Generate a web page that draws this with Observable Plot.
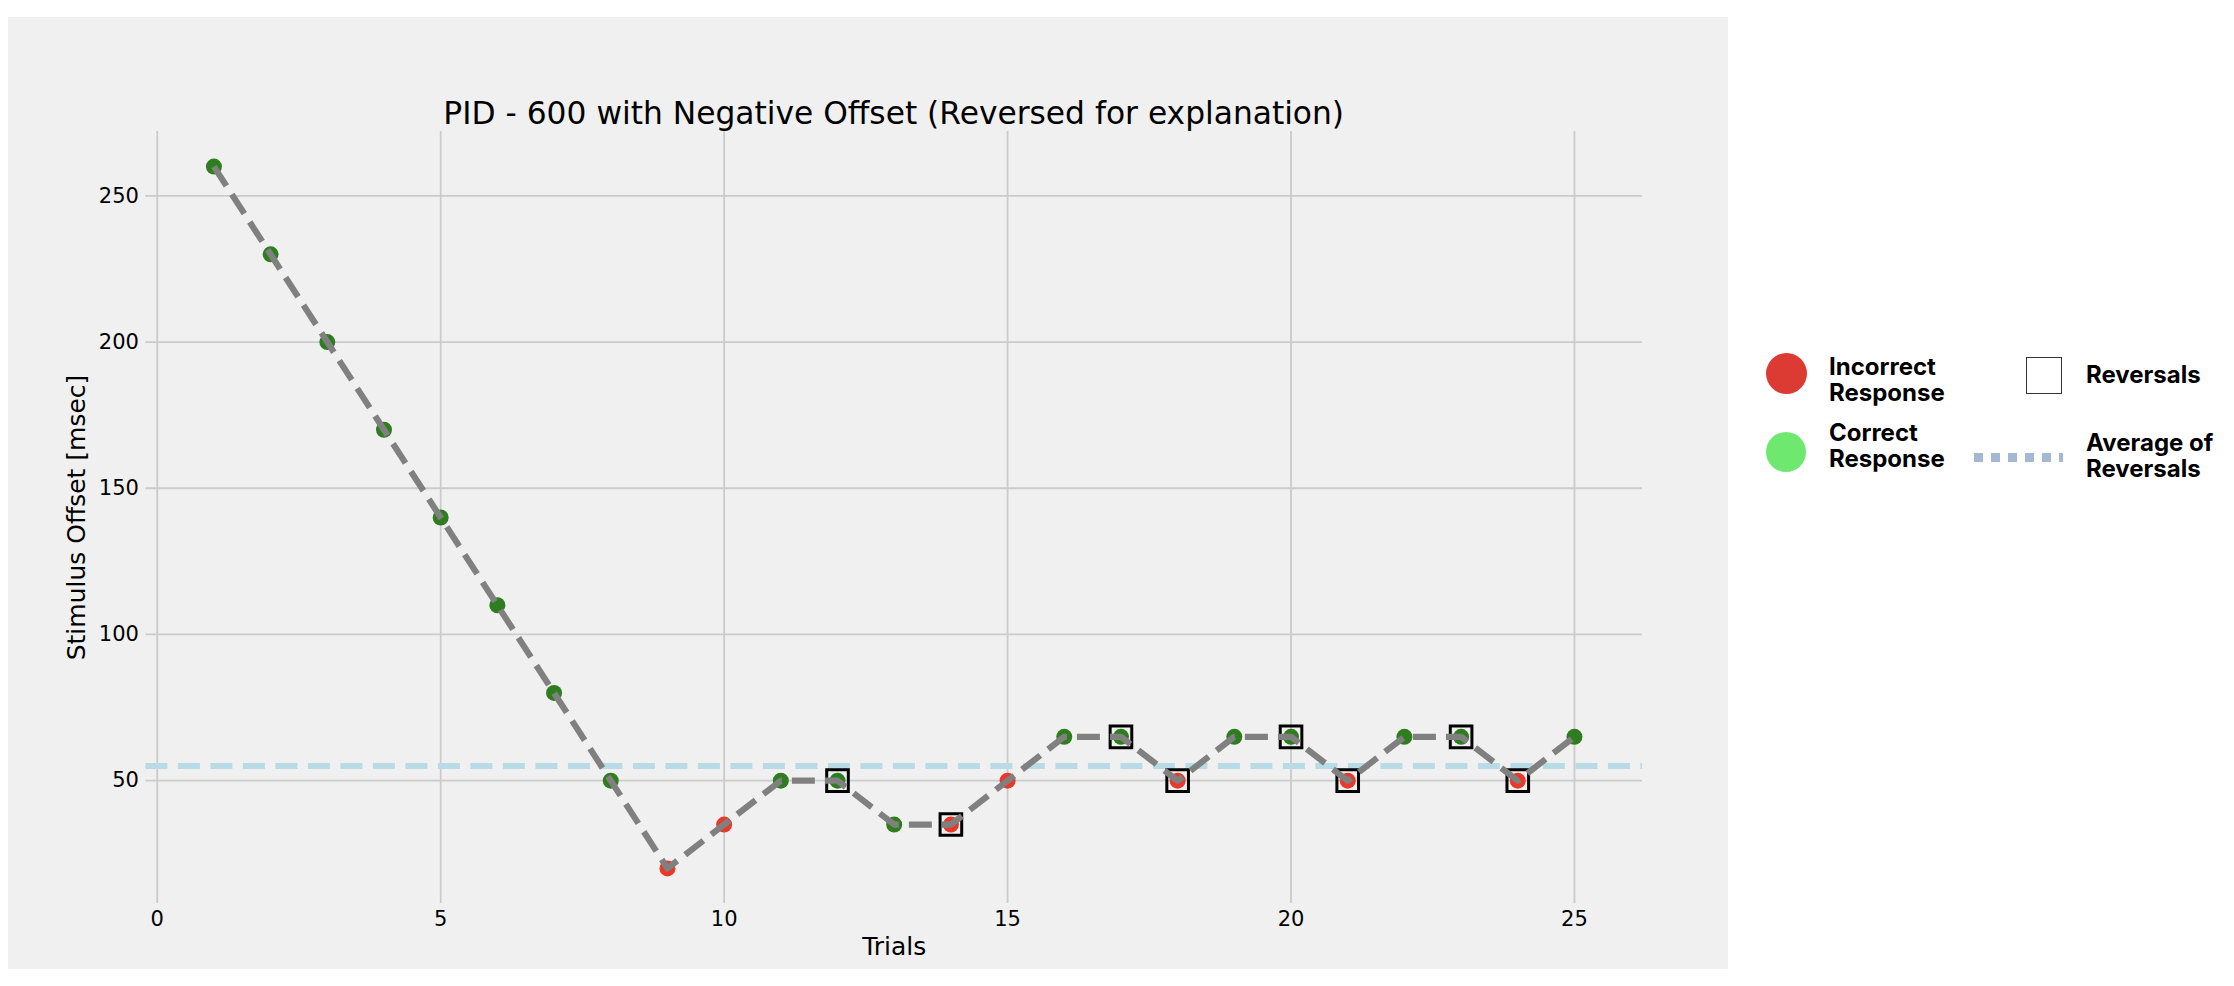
<!DOCTYPE html>
<html>
<head>
<meta charset="utf-8">
<script src="https://cdn.jsdelivr.net/npm/d3@7"></script>
<script src="https://cdn.jsdelivr.net/npm/@observablehq/plot@0.6"></script>
<style>
  html, body { margin: 0; padding: 0; background: #ffffff; }
  body { width: 2234px; height: 986px; position: relative; overflow: hidden; }
  #panel { position: absolute; left: 8px; top: 17px; width: 1720px; height: 952px; background: #f0f0f0; }
  #title { position: relative; height: 104px; }
  #title span { position: absolute; left: 137.4px; width: 1496.6px; top: 78px; line-height: 36px; text-align: center;
    font-family: "DejaVu Sans", sans-serif; font-size: 31.3px; color: #000; white-space: nowrap; }
  #chart svg { display: block; }
  .leg { position: absolute; font-family: "Inter", sans-serif; font-weight: 700; font-size: 24px; line-height: 26px; color: #000; }
  .legdot { position: absolute; border-radius: 50%; }
</style>
</head>
<body>
<div id="panel">
  <div id="title"><span>PID - 600 with Negative Offset (Reversed for explanation)</span></div>
  <div id="chart"></div>
</div>
<div id="legend">
  <div class="legdot" style="left:1766px;top:353px;width:41px;height:41px;background:#dc3b33;"></div>
  <div class="leg" style="left:1829px;top:354px;">Incorrect<br>Response</div>
  <div class="legdot" style="left:1766px;top:432px;width:40px;height:40px;background:#6fe86f;"></div>
  <div class="leg" style="left:1829px;top:420px;">Correct<br>Response</div>
  <div style="position:absolute;left:2026px;top:357px;width:34px;height:35px;background:#fff;border:1.5px solid #333;"></div>
  <div class="leg" style="left:2086px;top:362px;">Reversals</div>
  <div style="position:absolute;left:1969px;top:453px;width:94px;height:8.5px;background:repeating-linear-gradient(to right, transparent 0 5px, #a3b8d3 5px 14px, transparent 14px 17px);"></div>
  <div class="leg" style="left:2086px;top:430px;">Average of<br>Reversals</div>
</div>
<script>
// ---- data ----
const trials = [1, 2, 3, 4, 5, 6, 7, 8, 9, 10, 11, 12, 13, 14, 15, 16, 17, 18, 19, 20, 21, 22, 23, 24, 25];
const offsets = [260, 230, 200, 170, 140, 110, 80, 50, 20, 35, 50, 50, 35, 35, 50, 65, 65, 50, 65, 65, 50, 65, 65, 50, 65];
const responses = ["Correct", "Correct", "Correct", "Correct", "Correct", "Correct", "Correct", "Correct",
  "Incorrect", "Incorrect", "Correct", "Correct", "Correct", "Incorrect", "Incorrect", "Correct", "Correct",
  "Incorrect", "Correct", "Correct", "Incorrect", "Correct", "Correct", "Incorrect", "Correct"];
const reversalTrials = [12, 14, 17, 18, 20, 21, 23, 24];
const reversalAverage = [55];
const responseCategories = ["Incorrect", "Correct"];
const responseColors = ["#e8392a", "#2e7d1e"];
const xTicks = [0, 5, 10, 15, 20, 25];
const yTicks = [50, 100, 150, 200, 250];
const xLabel = "Trials";
const yLabel = "Stimulus Offset [msec]";

const data = trials.map((t, i) => ({trial: t, offset: offsets[i], response: responses[i]}));
const reversals = data.filter(d => reversalTrials.includes(d.trial));

const chart = Plot.plot({
  width: 1720,
  height: 848,
  marginTop: 10,
  marginBottom: 66,
  marginLeft: 137.4,
  marginRight: 86,
  style: {background: "transparent", fontFamily: "DejaVu Sans, sans-serif", fontSize: "21px", color: "#000", overflow: "visible"},
  x: {domain: [-0.2, 26.2]},
  y: {domain: [8, 272]},
  color: {domain: responseCategories, range: responseColors},
  marks: [
    Plot.gridX(xTicks, {stroke: "#cbcbcb", strokeOpacity: 1, strokeWidth: 1.8}),
    Plot.gridY(yTicks, {stroke: "#cbcbcb", strokeOpacity: 1, strokeWidth: 1.8}),
    Plot.axisX(xTicks, {tickSize: 0, tickPadding: 7.5, label: null, fontSize: 21}),
    Plot.axisY(yTicks, {tickSize: 0, tickPadding: 7, label: null, fontSize: 21}),
    Plot.text([xLabel], {text: d => d, frameAnchor: "bottom", textAnchor: "middle", lineAnchor: "middle", dy: 43, fontSize: 25}),
    Plot.text([yLabel], {text: d => d, frameAnchor: "left", textAnchor: "middle", lineAnchor: "middle", rotate: -90, dx: -68.4, fontSize: 25}),
    Plot.ruleY(reversalAverage, {stroke: "#b8dbe6", strokeWidth: 6, strokeDasharray: "22,10.5"}),
    Plot.dot(data, {x: "trial", y: "offset", fill: "response", r: 8}),
    Plot.dot(reversals, {x: "trial", y: "offset", symbol: "square", r: 12.2, stroke: "#000", strokeWidth: 3, fill: "none"}),
    Plot.line(data, {x: "trial", y: "offset", stroke: "#808080", strokeWidth: 6.2, strokeDasharray: "23,10", strokeLinecap: "butt", strokeLinejoin: "round"})
  ]
});
document.getElementById("chart").appendChild(chart);
</script>
</body>
</html>
